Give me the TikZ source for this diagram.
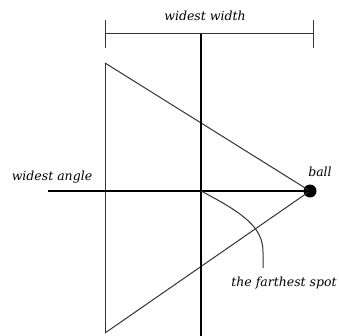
\documentclass[tikz,border=0pt]{standalone}
\usepackage{fontspec}
\newfontfamily\lblfont{DejaVu Serif}
\begin{document}
\begin{tikzpicture}[x=1pt,y=-1pt,
  thin line/.style={line width=1pt,draw=black!80},
  axis/.style={line width=2pt,draw=black},
  lbl/.style={font=\lblfont\itshape\fontsize{12.5}{14}\selectfont,inner sep=0pt}]
\useasboundingbox (0,0) rectangle (339,336);
% points
\coordinate (tl) at (105,63);
\coordinate (bl) at (105,333);
\node[circle,fill=black,minimum size=13pt,inner sep=0pt] (ball) at (310,191) {};
\coordinate (hl) at (48,191);
\coordinate (vt) at (201,34);
\coordinate (vb) at (201,336);
\coordinate (c) at (201,191);
\coordinate (dl) at (105,34);
\coordinate (dr) at (313,34);
\coordinate (spot) at (263,268);
% triangle
\draw[thin line] (tl) -- (bl);
\draw[thin line] (tl) -- (ball.center);
\draw[thin line] (bl) -- (ball.center);
% axes
\draw[axis] (hl) -- (ball.center);
\draw[axis] (vt) -- (vb);
% dimension line
\draw[thin line] (dl) -- (dr);
\draw[thin line] ([yshift=-14pt]dl) -- ([yshift=14pt]dl);
\draw[thin line] ([yshift=-14pt]dr) -- ([yshift=14pt]dr);
% curve
\draw[thin line] (c) .. controls (245,214) and (263,228) .. (263,252) -- (spot);
% labels
\node[lbl] (ww) at (205,16) {widest width};
\node[lbl] (wa) at (52,177) {widest angle};
\node[lbl] (bt) at (320,172) {ball};
\node[lbl] (fs) at (284,283) {the farthest spot};
\end{tikzpicture}
\end{document}
